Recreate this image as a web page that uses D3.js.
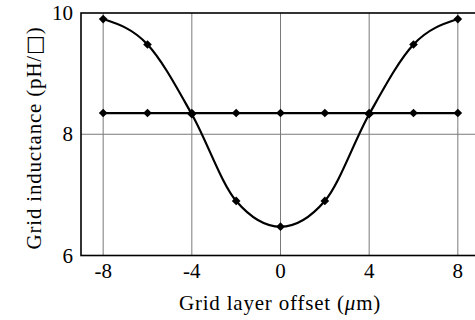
<!DOCTYPE html>
<html>
<head>
<meta charset="utf-8">
<script src="https://cdn.jsdelivr.net/npm/d3@7"></script>
<style>
  body { margin: 0; background: #fff; }
  svg text { font-family: "Liberation Serif", "DejaVu Serif", serif; fill: #000; }
</style>
</head>
<body>
<div id="chart"></div>
<script>
const offsets = [-8, -6, -4, -2, 0, 2, 4, 6, 8];
const curveValues = [9.9, 9.48, 8.33, 6.9, 6.475, 6.9, 8.33, 9.48, 9.9];
const flatValues = [8.35, 8.35, 8.35, 8.35, 8.35, 8.35, 8.35, 8.35, 8.35];
const xTicks = [-8, -4, 0, 4, 8];
const yTicks = [6, 8, 10];

const width = 475, height = 320;

const svg = d3.select('#chart')
  .append('svg')
  .attr('width', width)
  .attr('height', height);

const x = d3.scaleLinear().domain([-9, 9]).range([81, 480]);
const y = d3.scaleLinear().domain([6, 10]).range([255.5, 13]);

// grid
svg.selectAll('.vgrid')
  .data(xTicks)
  .enter()
  .append('line')
  .attr('x1', d => x(d))
  .attr('x2', d => x(d))
  .attr('y1', y(10))
  .attr('y2', y(6))
  .attr('stroke', '#7a7a7a')
  .attr('stroke-width', 1);

svg.selectAll('.hgrid')
  .data([8])
  .enter()
  .append('line')
  .attr('x1', x(-9))
  .attr('x2', x(9))
  .attr('y1', d => y(d))
  .attr('y2', d => y(d))
  .attr('stroke', '#7a7a7a')
  .attr('stroke-width', 1);

// frame
svg.append('rect')
  .attr('x', x(-9))
  .attr('y', y(10))
  .attr('width', x(9) - x(-9))
  .attr('height', y(6) - y(10))
  .attr('fill', 'none')
  .attr('stroke', '#000')
  .attr('stroke-width', 1.6);

// series
const line = d3.line()
  .x(d => x(d[0]))
  .y(d => y(d[1]))
  .curve(d3.curveMonotoneX);

const series = [
  d3.zip(offsets, curveValues),
  d3.zip(offsets, flatValues)
];

series.forEach(pts => {
  svg.append('path')
    .datum(pts)
    .attr('d', line)
    .attr('fill', 'none')
    .attr('stroke', '#000')
    .attr('stroke-width', 2.2);

  svg.selectAll(null)
    .data(pts)
    .enter()
    .append('path')
    .attr('d', d3.symbol(d3.symbolDiamond2, 48))
    .attr('transform', d => `translate(${x(d[0])},${y(d[1])})`)
    .attr('fill', '#000');
});

// tick labels
svg.selectAll('.xlab')
  .data(xTicks)
  .enter()
  .append('text')
  .attr('x', d => x(d))
  .attr('y', 278)
  .attr('text-anchor', 'middle')
  .attr('font-size', 21)
  .text(d => d);

svg.selectAll('.ylab')
  .data(yTicks)
  .enter()
  .append('text')
  .attr('x', 73)
  .attr('y', d => y(d) + 7)
  .attr('text-anchor', 'end')
  .attr('font-size', 21)
  .text(d => d);

// axis titles
const xt = svg.append('text')
  .attr('x', 280)
  .attr('y', 310)
  .attr('text-anchor', 'middle')
  .attr('font-size', 21)
  .attr('letter-spacing', 0.8);
xt.append('tspan').text('Grid layer offset (');
xt.append('tspan').attr('font-style', 'italic').text('μ');
xt.append('tspan').text('m)');

const yt = svg.append('text')
  .attr('transform', 'translate(41,138) rotate(-90)')
  .attr('text-anchor', 'middle')
  .attr('font-size', 21)
  .attr('letter-spacing', 0.8);
yt.append('tspan').text('Grid inductance (pH/');
yt.append('tspan').style('font-family', '"DejaVu Sans"').text('\u25A1\uFE0E');
yt.append('tspan').text(')');
</script>
</body>
</html>
